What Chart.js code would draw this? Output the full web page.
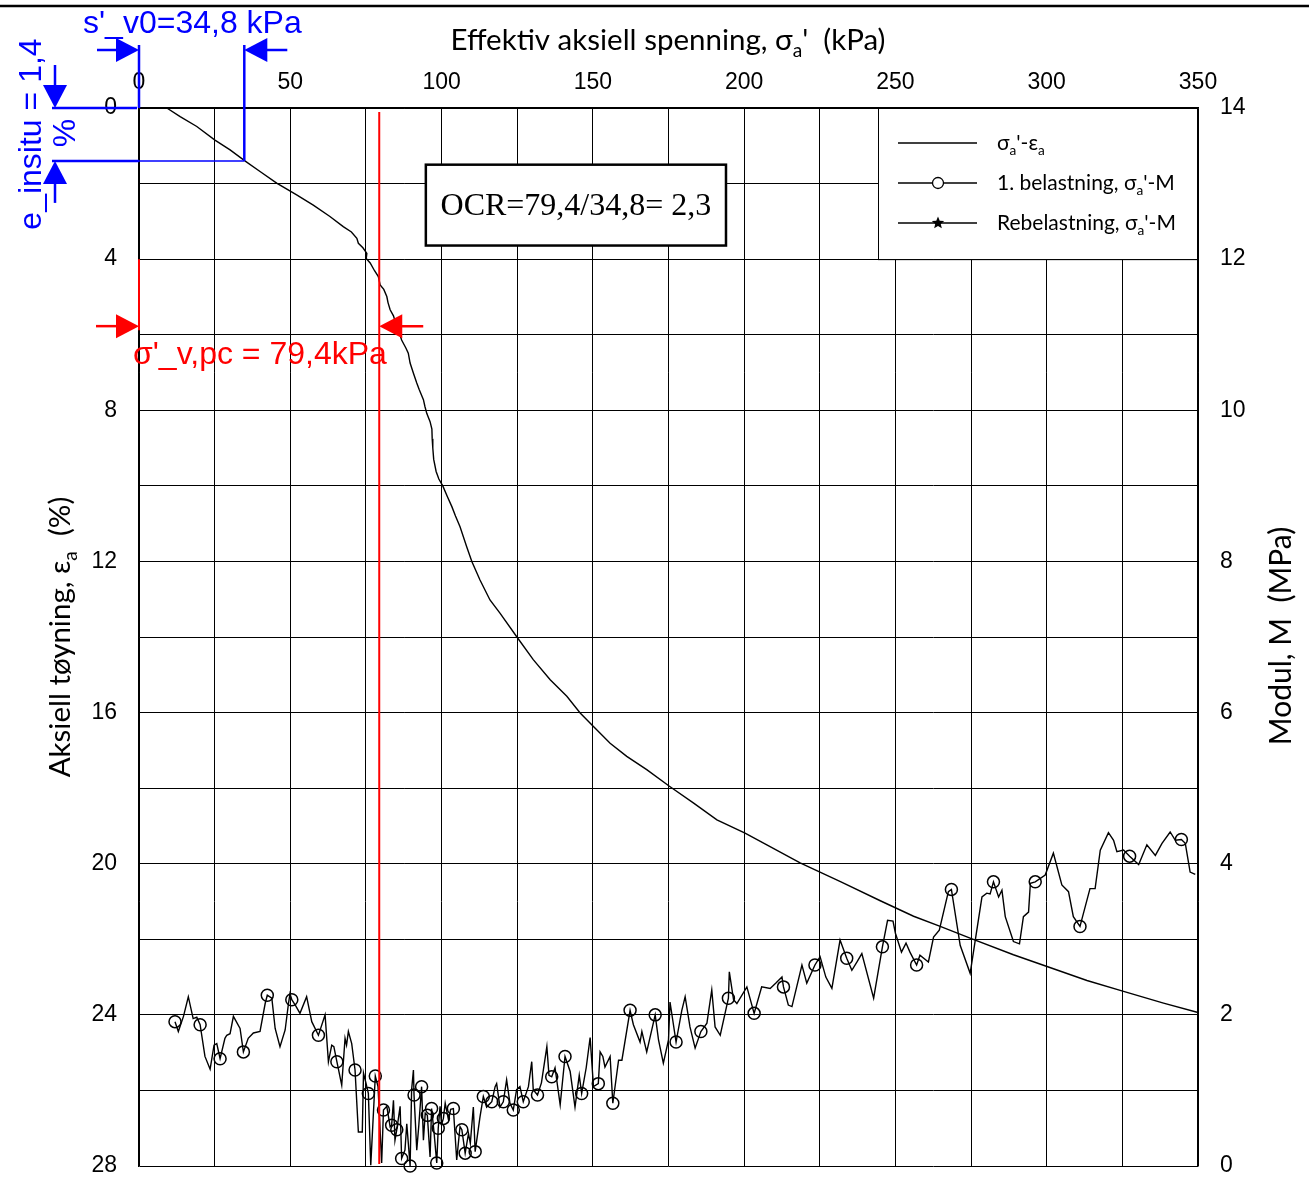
<!DOCTYPE html>
<html>
<head>
<meta charset="utf-8">
<script src="https://cdn.jsdelivr.net/npm/chart.js@4/dist/chart.umd.min.js"></script>
<style>
  html, body { margin: 0; padding: 0; background: #fff; }
</style>
</head>
<body>
<canvas id="chart" width="1309" height="1182"></canvas>
<script>
/* ---------- DATA ---------- */
// sigma_a' (kPa) vs axial strain eps_a (%)
const strainSigma = [9.2, 13.6, 19.1, 25.1, 30.1, 35.0, 40.0, 45.5, 52.1, 57.6,
  63.1, 67.5, 70.2, 72.0, 72.5, 74.0, 75.3, 75.1, 76.4, 77.8,
  79.1, 79.7, 80.9, 81.9, 82.3, 83.0, 84.1, 85.2, 85.9, 86.8,
  88.2, 89.0, 89.6, 90.7, 91.8, 92.6, 94.0, 94.5, 95.1, 96.2,
  96.8, 96.9, 97.1, 97.4, 98.2, 99.1, 100.4, 101.9, 103.4, 104.6,
  106.1, 108.3, 110.0, 112.7, 116.0, 119.3, 124.9, 130.3, 135.9, 141.4,
  145.8, 150.2, 155.7, 161.2, 167.8, 175.3, 183.2, 191.0, 200.3, 207.5,
  218.5, 232.0, 245.0, 256.0, 264.8, 275.3, 289.0, 300.1, 313.3, 325.4,
  338.6, 349.7];
const strainEps = [0, 0.23, 0.49, 0.85, 1.11, 1.40, 1.68, 1.99, 2.30, 2.57,
  2.87, 3.14, 3.28, 3.45, 3.58, 3.70, 3.85, 3.98, 4.10, 4.30,
  4.46, 4.68, 4.80, 4.99, 5.15, 5.34, 5.50, 5.79, 5.92, 6.14,
  6.35, 6.49, 6.75, 7.02, 7.28, 7.45, 7.72, 7.90, 8.08, 8.30,
  8.50, 8.75, 9.00, 9.30, 9.62, 9.82, 10.0, 10.28, 10.55, 10.80,
  11.08, 11.61, 12.0, 12.49, 13.02, 13.37, 14.0, 14.6, 15.13, 15.57,
  16.01, 16.37, 16.81, 17.16, 17.51, 17.95, 18.39, 18.84, 19.19, 19.50,
  19.98, 20.48, 20.98, 21.39, 21.66, 21.99, 22.41, 22.72, 23.09, 23.38,
  23.69, 23.93];

// sigma_a' (kPa) vs modulus M (MPa), 1. belastning
const modulSigma = [11.9, 13.0, 14.7, 16.3, 17.9, 19.1, 20.2, 21.8, 23.5, 24.8,
  25.7, 26.8, 28.4, 29.0, 30.1, 31.2, 33.4, 34.5, 36.1, 37.8,
  40.0, 41.7, 42.4, 43.9, 45.0, 46.6, 48.3, 49.4, 49.9, 50.5,
  51.8, 53.2, 55.4, 57.1, 59.3, 61.5, 62.6, 63.7, 64.4, 65.4,
  67.0, 68.1, 68.6, 69.2, 70.3, 71.4, 72.5, 73.8, 74.2, 75.0,
  75.8, 76.6, 78.1, 79.0, 80.2, 80.8, 81.9, 83.0, 83.5, 84.1,
  84.6, 85.2, 86.3, 86.8, 87.9, 88.5, 89.6, 90.1, 90.7, 90.9,
  91.8, 92.5, 93.4, 94.0, 94.6, 95.3, 96.2, 96.7, 97.5, 98.4,
  98.9, 99.5, 100.0, 100.6, 101.2, 102.3, 103.0, 103.9, 105.0, 106.1,
  106.7, 107.8, 108.9, 109.5, 110.5, 111.1, 112.7, 113.8, 114.9, 116.6,
  117.7, 118.2, 119.3, 120.4, 121.5, 122.6, 123.7, 124.8, 125.9, 127.0,
  128.7, 129.8, 130.3, 131.7, 133.0, 134.8, 135.5, 136.4, 137.5, 139.2,
  140.8, 142.5, 144.1, 145.5, 146.3, 147.8, 149.1, 150.2, 151.8, 152.4,
  153.3, 154.0, 155.7, 156.6, 158.5, 159.6, 162.3, 163.4, 165.6, 166.2,
  167.8, 170.6, 171.7, 173.3, 175.0, 175.5, 177.5, 179.4, 180.5, 182.1,
  183.8, 185.7, 187.7, 189.3, 190.4, 192.1, 194.8, 195.1, 196.5, 197.6,
  200.9, 203.3, 205.8, 208.6, 210.5, 212.5, 213.0, 214.6, 215.8, 219.1,
  220.7, 223.4, 225.1, 227.0, 229.0, 231.7, 233.9, 235.6, 237.3, 238.9,
  242.8, 245.7, 247.4, 249.2, 250.0, 252.0, 253.5, 254.8, 257.0, 258.1,
  260.9, 262.6, 264.5, 267.5, 268.5, 271.4, 274.7, 276.9, 278.6, 280.2,
  281.3, 282.4, 284.1, 285.2, 286.3, 289.0, 291.0, 292.3, 294.0, 294.6,
  296.2, 299.5, 302.2, 305.0, 307.2, 308.8, 311.0, 314.3, 316.0, 317.7,
  320.4, 322.1, 323.2, 325.4, 327.4, 330.4, 333.1, 335.9, 338.1, 340.8,
  342.5, 344.5, 345.8, 347.4, 349.1];
const modulM = [1.91, 1.78, 1.98, 2.24, 1.95, 1.97, 1.87, 1.45, 1.28, 1.60,
  1.62, 1.42, 1.69, 1.73, 1.75, 1.98, 1.82, 1.51, 1.69, 1.76,
  1.78, 2.15, 2.26, 2.22, 1.82, 1.58, 1.80, 2.15, 2.28, 2.20,
  2.12, 2.02, 2.24, 1.91, 1.73, 2.00, 1.38, 1.60, 1.58, 1.38,
  1.07, 1.69, 1.60, 1.78, 1.62, 1.27, 0.45, 0.45, 1.23, 1.10,
  0.96, 0.01, 1.19, 1.05, 0.04, 0.74, 0.79, 0.52, 0.54, 0.87,
  0.34, 0.48, 0.79, 0.10, 0.21, 0.56, 0.00, 1.01, 1.27, 0.94,
  0.21, 0.55, 1.05, 0.34, 0.70, 0.67, 0.12, 0.76, 0.45, 0.04,
  0.50, 0.79, 0.55, 0.63, 0.83, 0.61, 0.75, 0.76, 0.08, 0.52,
  0.48, 0.17, 0.43, 0.30, 0.78, 0.19, 0.65, 0.92, 0.78, 0.85,
  1.05, 1.09, 0.78, 0.85, 1.14, 0.83, 0.74, 1.01, 1.05, 0.85,
  1.05, 1.38, 1.01, 0.94, 1.10, 1.58, 1.20, 1.18, 1.30, 0.81,
  1.45, 1.25, 0.78, 1.20, 0.96, 1.30, 1.70, 1.05, 1.09, 1.51,
  1.45, 1.31, 1.45, 0.83, 1.40, 1.40, 2.06, 1.87, 1.64, 1.78,
  1.51, 2.00, 1.67, 1.36, 1.67, 2.17, 1.64, 2.06, 2.24, 1.84,
  1.56, 1.78, 1.89, 2.33, 1.84, 1.73, 2.22, 2.57, 2.20, 2.15,
  2.37, 2.02, 2.37, 2.35, 2.42, 2.50, 2.37, 2.13, 2.11, 2.66,
  2.42, 2.66, 2.77, 2.50, 2.35, 2.99, 2.75, 2.59, 2.70, 2.81,
  2.22, 2.90, 3.25, 3.24, 3.08, 2.83, 2.95, 2.83, 2.66, 2.79,
  2.70, 3.03, 3.12, 3.63, 3.66, 2.92, 2.55, 3.12, 3.56, 3.61,
  3.60, 3.76, 3.56, 3.65, 3.30, 2.97, 2.94, 3.30, 3.36, 3.74,
  3.76, 3.85, 4.14, 3.72, 3.63, 3.30, 3.17, 3.67, 3.67, 4.18,
  4.41, 4.31, 4.16, 4.18, 4.10, 3.99, 4.25, 4.11, 4.27, 4.42,
  4.31, 4.32, 4.27, 3.89, 3.86];

// marked points (circles) on the 1. belastning curve
const circleSigma = [11.9, 20.2, 26.8, 34.5, 42.4, 50.5, 59.3, 65.4, 71.4, 75.8,
  78.1, 80.8, 83.5, 85.2, 86.8, 89.6, 90.9, 93.4, 95.3, 96.7,
  98.4, 98.9, 100.6, 103.9, 106.7, 107.8, 111.1, 113.8, 116.6, 120.4,
  123.7, 127.0, 131.7, 136.4, 140.8, 146.3, 151.8, 156.6, 162.3, 170.6,
  177.5, 185.7, 194.8, 203.3, 213.0, 223.4, 233.9, 245.7, 257.0, 268.5,
  282.4, 296.2, 311.0, 327.4, 344.5];
const circleM = [1.91, 1.87, 1.42, 1.51, 2.26, 2.20, 1.73, 1.38, 1.27, 0.96,
  1.19, 0.74, 0.54, 0.48, 0.10, 0.00, 0.94, 1.05, 0.67, 0.76,
  0.04, 0.50, 0.63, 0.76, 0.48, 0.17, 0.19, 0.92, 0.85, 0.85,
  0.74, 0.85, 0.94, 1.18, 1.45, 0.96, 1.09, 0.83, 2.06, 2.00,
  1.64, 1.78, 2.22, 2.02, 2.37, 2.66, 2.75, 2.90, 2.66, 3.66,
  3.76, 3.76, 3.17, 4.10, 4.32];

// Rebelastning: no measured points, only in legend
const reloadSigma = [];
const reloadM = [];

// axes
const xTicks = [0, 50, 100, 150, 200, 250, 300, 350];
const yTicks = [0, 4, 8, 12, 16, 20, 24, 28];
const y2Ticks = [0, 2, 4, 6, 8, 10, 12, 14];

// annotation values
const sigmaV0 = 34.8;
const epsInsitu = 1.4;
const sigmaPc = 79.4;

/* ---------- HELPERS ---------- */
function toPts(xs, ys) {
  return xs.map((x, i) => ({ x: x, y: ys[i] }));
}

function arrow(c, x1, y1, x2, y2, color) {
  const head = 23, half = 12;
  const a = Math.atan2(y2 - y1, x2 - x1);
  const ca = Math.cos(a), sa = Math.sin(a);
  c.strokeStyle = color;
  c.fillStyle = color;
  c.lineWidth = 2.5;
  c.beginPath();
  c.moveTo(x1, y1);
  c.lineTo(x2 - ca * head * 0.5, y2 - sa * head * 0.5);
  c.stroke();
  c.beginPath();
  c.moveTo(x2, y2);
  c.lineTo(x2 - ca * head - sa * half, y2 - sa * head + ca * half);
  c.lineTo(x2 - ca * head + sa * half, y2 - sa * head - ca * half);
  c.closePath();
  c.fill();
}

function line(c, x1, y1, x2, y2) {
  c.beginPath();
  c.moveTo(x1, y1);
  c.lineTo(x2, y2);
  c.stroke();
}

// parts: [[text, isSub], ...]; draws text with subscripts, vertically centred on y
function richWidth(c, parts, size, family) {
  let w = 0;
  parts.forEach(p => {
    c.font = (p[1] ? size * 0.65 : size) + "px " + family;
    w += c.measureText(p[0]).width;
  });
  return w;
}
function drawRich(c, parts, x, y, size, family, align) {
  let cx = x;
  if (align === "center") cx = x - richWidth(c, parts, size, family) / 2;
  const base = y + size * 0.35;
  c.textAlign = "left";
  c.textBaseline = "alphabetic";
  parts.forEach(p => {
    const s = p[1] ? size * 0.65 : size;
    c.font = s + "px " + family;
    c.fillText(p[0], cx, p[1] ? base + size * 0.22 : base);
    cx += c.measureText(p[0]).width;
  });
}

function star(c, x, y, r) {
  c.beginPath();
  for (let i = 0; i < 10; i++) {
    const rr = i % 2 === 0 ? r : r * 0.45;
    const a = -Math.PI / 2 + i * Math.PI / 5;
    if (i === 0) c.moveTo(x + rr * Math.cos(a), y + rr * Math.sin(a));
    else c.lineTo(x + rr * Math.cos(a), y + rr * Math.sin(a));
  }
  c.closePath();
  c.fill();
}

/* ---------- ANNOTATIONS, TITLES, LEGEND ---------- */
const annot = {
  id: "annot",
  afterDraw(chart) {
    const c = chart.ctx;
    const sx = chart.scales.x, sy = chart.scales.y;
    const a = chart.chartArea;
    c.save();

    // frame line at the very top
    c.strokeStyle = "#000";
    c.lineWidth = 2.5;
    line(c, 0, 6, chart.width, 6);

    // axis titles
    c.fillStyle = "#000";
    drawRich(c, [["Effektiv aksiell spenning, σ", 0], ["a", 1], ["'  (kPa)", 0]],
      668, 40, 29.5, "Lato", "center");

    c.save();
    c.translate(60, 637);
    c.rotate(-Math.PI / 2);
    drawRich(c, [["Aksiell tøyning, ε", 0], ["a", 1], ["  (%)", 0]], 0, 0, 29.5, "Lato", "center");
    c.restore();

    c.save();
    c.translate(1280, 636);
    c.rotate(-Math.PI / 2);
    drawRich(c, [["Modul, M  (MPa)", 0]], 0, 0, 30, "Lato", "center");
    c.restore();

    // legend box
    const lx = a.right - 320, ly = a.top, lb = sy.getPixelForValue(4);
    c.fillStyle = "#fff";
    c.fillRect(lx, ly, a.right - lx, lb - ly);
    c.strokeStyle = "#000";
    c.lineWidth = 1;
    c.strokeRect(lx + 0.5, ly + 0.5, a.right - lx - 1, lb - ly);
    const rows = [
      [[["σ", 0], ["a", 1], ["'-ε", 0], ["a", 1]], "none"],
      [[["1. belastning, σ", 0], ["a", 1], ["'-M", 0]], "circle"],
      [[["Rebelastning, σ", 0], ["a", 1], ["'-M", 0]], "star"]
    ];
    rows.forEach((r, i) => {
      const yy = ly + 35 + i * 40;
      c.strokeStyle = "#000";
      c.fillStyle = "#000";
      c.lineWidth = 1.3;
      line(c, lx + 20, yy, lx + 99, yy);
      if (r[1] === "circle") {
        c.fillStyle = "#fff";
        c.beginPath();
        c.arc(lx + 60, yy, 5.5, 0, Math.PI * 2);
        c.fill();
        c.stroke();
        c.fillStyle = "#000";
      } else if (r[1] === "star") {
        star(c, lx + 60, yy, 6.5);
      }
      drawRich(c, r[0], lx + 119, yy, 21, "Lato", "left");
    });

    // OCR box
    const ox1 = sx.getPixelForValue(94.8), ox2 = sx.getPixelForValue(194);
    const oy1 = sy.getPixelForValue(1.5), oy2 = sy.getPixelForValue(3.64);
    c.fillStyle = "#fff";
    c.fillRect(ox1, oy1, ox2 - ox1, oy2 - oy1);
    c.strokeStyle = "#000";
    c.lineWidth = 2.5;
    c.strokeRect(ox1, oy1, ox2 - ox1, oy2 - oy1);
    c.fillStyle = "#000";
    c.font = "32px 'Liberation Serif'";
    c.textAlign = "center";
    c.textBaseline = "middle";
    c.fillText("OCR=" + String(sigmaPc).replace(".", ",") + "/" + String(sigmaV0).replace(".", ",") +
      "= " + String((sigmaPc / sigmaV0).toFixed(1)).replace(".", ","), (ox1 + ox2) / 2, (oy1 + oy2) / 2 + 1);

    // blue: sigma'_v0 and e_insitu
    const blue = "#0000ff";
    const x0 = sx.getPixelForValue(0), xv = sx.getPixelForValue(sigmaV0);
    const y0 = sy.getPixelForValue(0), ye = sy.getPixelForValue(epsInsitu);
    c.strokeStyle = blue;
    c.lineWidth = 2.5;
    line(c, x0, 45, x0, y0);
    line(c, xv, 45, xv, ye);
    line(c, 52, y0, x0 - 2, y0);
    line(c, 52, ye, x0, ye);
    c.strokeStyle = "rgba(0,0,255,0.75)";
    c.lineWidth = 2;
    line(c, x0, ye, xv, ye);
    arrow(c, x0 - 42, 50, x0, 50, blue);
    arrow(c, xv + 43, 50, xv, 50, blue);
    arrow(c, 55, y0 - 43, 55, y0, blue);
    arrow(c, 55, ye + 42, 55, ye, blue);
    c.fillStyle = blue;
    c.font = "32px 'Liberation Sans'";
    c.textAlign = "left";
    c.textBaseline = "middle";
    c.fillText("s'_v0=" + String(sigmaV0).replace(".", ",") + " kPa", 83, 24);
    c.save();
    c.translate(32, 134);
    c.rotate(-Math.PI / 2);
    c.textAlign = "center";
    c.fillText("e_insitu = " + String(epsInsitu).replace(".", ","), 0, 0);
    c.restore();
    c.save();
    c.translate(66, 133);
    c.rotate(-Math.PI / 2);
    c.textAlign = "center";
    c.fillText("%", 0, 0);
    c.restore();

    // red: sigma'_v,pc
    const red = "#ff0000";
    const xp = sx.getPixelForValue(sigmaPc);
    const y4 = sy.getPixelForValue(4);
    c.strokeStyle = red;
    c.lineWidth = 2;
    line(c, x0, y4, x0, y4 + 71);
    line(c, xp, a.top + 4, xp, a.bottom - 2);
    arrow(c, x0 - 43, y4 + 67, x0, y4 + 67, red);
    arrow(c, xp + 44, y4 + 67, xp, y4 + 67, red);
    c.fillStyle = red;
    c.font = "32px 'Liberation Sans'";
    c.textAlign = "left";
    c.textBaseline = "middle";
    c.fillText("σ'_v,pc = " + String(sigmaPc).replace(".", ",") + "kPa", 133, y4 + 96);

    c.restore();
  }
};

/* ---------- CHART ---------- */
const tickFont = { family: "Liberation Sans", size: 23 };
const ctx = document.getElementById("chart").getContext("2d");

// fix axis box sizes so the plot area matches the original figure
function fixVertical(w) {
  return s => { s.width = w; s.paddingTop = 0; s.paddingBottom = 0; };
}

new Chart(ctx, {
  type: "scatter",
  data: {
    datasets: [
      {
        label: "σa'-εa",
        data: toPts(strainSigma, strainEps),
        yAxisID: "y",
        showLine: true,
        borderColor: "#000",
        borderWidth: 1.4,
        pointRadius: 0,
        tension: 0
      },
      {
        label: "1. belastning, σa'-M",
        data: toPts(modulSigma, modulM),
        yAxisID: "y2",
        showLine: true,
        borderColor: "#000",
        borderWidth: 1.4,
        pointRadius: 0,
        tension: 0
      },
      {
        label: "1. belastning punkter",
        data: toPts(circleSigma, circleM),
        yAxisID: "y2",
        showLine: false,
        pointStyle: "circle",
        pointRadius: 6,
        borderColor: "#000",
        borderWidth: 1.5,
        backgroundColor: "rgba(0,0,0,0)"
      },
      {
        label: "Rebelastning, σa'-M",
        data: toPts(reloadSigma, reloadM),
        yAxisID: "y2",
        showLine: true,
        pointStyle: "star",
        borderColor: "#000"
      }
    ]
  },
  options: {
    responsive: false,
    animation: false,
    clip: false,
    layout: { padding: { left: 0, right: 0, top: 0, bottom: 16 } },
    plugins: {
      legend: { display: false },
      tooltip: { enabled: false }
    },
    scales: {
      x: {
        type: "linear",
        position: "top",
        min: 0,
        max: 350,
        ticks: {
          stepSize: 25,
          autoSkip: false,
          maxRotation: 0,
          color: "#000",
          font: tickFont,
          padding: 12,
          callback: v => (xTicks.includes(v) ? v : "")
        },
        grid: { color: "#000", lineWidth: 1, drawTicks: false },
        border: { color: "#000", width: 1.5 },
        afterFit: s => { s.height = 108; s.paddingLeft = 0; s.paddingRight = 0; }
      },
      y: {
        type: "linear",
        position: "left",
        reverse: true,
        min: 0,
        max: 28,
        ticks: {
          stepSize: 2,
          autoSkip: false,
          color: "#000",
          font: tickFont,
          padding: 22,
          callback: v => (yTicks.includes(v) ? v : "")
        },
        grid: { color: "#000", lineWidth: 1, drawTicks: false },
        border: { color: "#000", width: 1.5 },
        afterFit: fixVertical(139)
      },
      y2: {
        type: "linear",
        position: "right",
        min: 0,
        max: 14,
        ticks: {
          stepSize: 1,
          autoSkip: false,
          color: "#000",
          font: tickFont,
          padding: 22,
          callback: v => (y2Ticks.includes(v) ? v : "")
        },
        grid: { display: false, drawTicks: false },
        border: { color: "#000", width: 1.5 },
        afterFit: fixVertical(111)
      }
    }
  },
  plugins: [annot]
});
</script>
</body>
</html>
